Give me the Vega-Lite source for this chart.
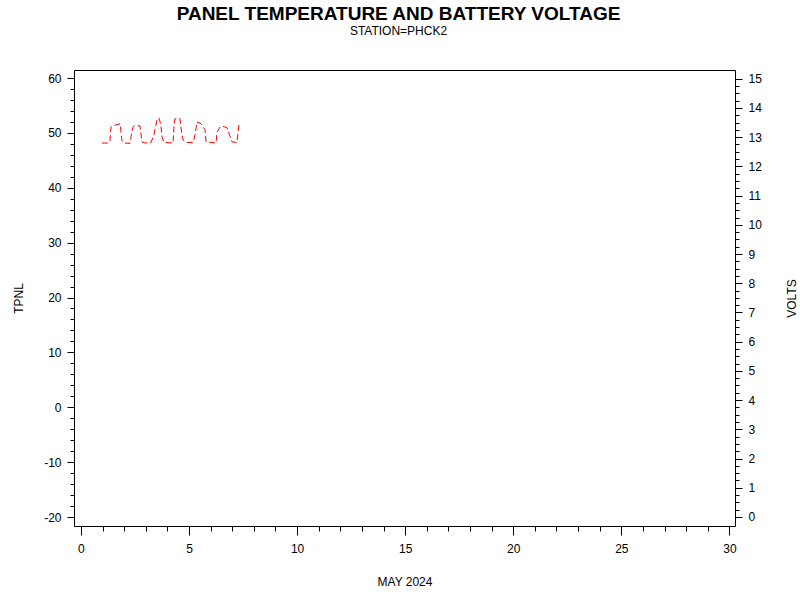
{
  "$schema": "https://vega.github.io/schema/vega-lite/v6.json",
  "autosize": "none",
  "padding": {"left": 74, "top": 70, "right": 65, "bottom": 74},
  "width": 661,
  "height": 456,
  "background": "white",
  "title": {
    "text": "PANEL TEMPERATURE AND BATTERY VOLTAGE",
    "subtitle": "STATION=PHCK2",
    "anchor": "middle",
    "dx": -6,
    "offset": 33,
    "font": "Liberation Sans",
    "fontSize": 19,
    "fontWeight": "bold",
    "color": "black",
    "subtitleFont": "Liberation Sans",
    "subtitleFontSize": 12,
    "subtitleColor": "black",
    "subtitlePadding": 2
  },
  "config": {
    "view": {"stroke": "black", "strokeWidth": 1},
    "axis": {
      "domain": false,
      "grid": false,
      "labelFont": "Liberation Sans",
      "labelFontSize": 12,
      "labelColor": "black",
      "labelOverlap": false,
      "tickColor": "black",
      "titleFont": "Liberation Sans",
      "titleFontSize": 12,
      "titleFontWeight": "normal",
      "titleColor": "black"
    }
  },
  "data": {
    "values": [
      {"day": 0.97, "volts": 12.80},
      {"day": 1.25, "volts": 12.80},
      {"day": 1.34, "volts": 12.84},
      {"day": 1.39, "volts": 13.35},
      {"day": 1.48, "volts": 13.39},
      {"day": 1.81, "volts": 13.46},
      {"day": 1.85, "volts": 13.22},
      {"day": 1.90, "volts": 12.87},
      {"day": 1.99, "volts": 12.80},
      {"day": 2.27, "volts": 12.79},
      {"day": 2.31, "volts": 12.98},
      {"day": 2.41, "volts": 13.35},
      {"day": 2.45, "volts": 13.39},
      {"day": 2.73, "volts": 13.39},
      {"day": 2.78, "volts": 13.11},
      {"day": 2.82, "volts": 12.84},
      {"day": 2.96, "volts": 12.80},
      {"day": 3.24, "volts": 12.82},
      {"day": 3.38, "volts": 13.08},
      {"day": 3.52, "volts": 13.59},
      {"day": 3.61, "volts": 13.66},
      {"day": 3.70, "volts": 13.42},
      {"day": 3.75, "volts": 13.01},
      {"day": 3.84, "volts": 12.82},
      {"day": 4.26, "volts": 12.80},
      {"day": 4.31, "volts": 13.42},
      {"day": 4.35, "volts": 13.63},
      {"day": 4.58, "volts": 13.64},
      {"day": 4.63, "volts": 13.32},
      {"day": 4.72, "volts": 12.91},
      {"day": 4.86, "volts": 12.82},
      {"day": 5.19, "volts": 12.82},
      {"day": 5.28, "volts": 13.08},
      {"day": 5.37, "volts": 13.52},
      {"day": 5.56, "volts": 13.46},
      {"day": 5.74, "volts": 13.25},
      {"day": 5.79, "volts": 12.84},
      {"day": 6.25, "volts": 12.80},
      {"day": 6.30, "volts": 13.18},
      {"day": 6.44, "volts": 13.35},
      {"day": 6.53, "volts": 13.39},
      {"day": 6.76, "volts": 13.32},
      {"day": 6.94, "volts": 12.94},
      {"day": 6.99, "volts": 12.84},
      {"day": 7.22, "volts": 12.82},
      {"day": 7.27, "volts": 13.18},
      {"day": 7.31, "volts": 13.42},
      {"day": 7.36, "volts": 13.46}
    ]
  },
  "encoding": {
    "x": {
      "field": "day",
      "type": "quantitative",
      "scale": {"domain": [-0.32, 30.26], "nice": false, "zero": false},
      "axis": {
        "title": "MAY 2024",
        "values": [0,1,2,3,4,5,6,7,8,9,10,11,12,13,14,15,16,17,18,19,20,21,22,23,24,25,26,27,28,29,30],
        "tickSize": {"condition": {"test": "datum.value % 5 === 0", "value": 9}, "value": 5},
        "labelExpr": "datum.value % 5 === 0 ? '' + datum.value : ''",
        "labelPadding": 8,
        "titlePadding": 22
      }
    }
  },
  "layer": [
    {
      "mark": {"type": "line", "color": "black", "strokeWidth": 1, "strokeDash": [6, 3]},
      "encoding": {
        "y": {
          "field": "tpnl",
          "type": "quantitative",
          "scale": {"domain": [-21.64, 61.46], "nice": false, "zero": false},
          "axis": {
            "orient": "left",
            "title": "TPNL",
            "values": [-20,-18,-16,-14,-12,-10,-8,-6,-4,-2,0,2,4,6,8,10,12,14,16,18,20,22,24,26,28,30,32,34,36,38,40,42,44,46,48,50,52,54,56,58,60],
            "tickSize": {"condition": {"test": "datum.value % 10 === 0", "value": 7}, "value": 4},
            "labelExpr": "datum.value % 10 === 0 ? '' + datum.value : ''",
            "labelPadding": 6,
            "titlePadding": 18
          }
        }
      }
    },
    {
      "mark": {"type": "line", "color": "#ff0000", "strokeWidth": 1, "strokeDash": [6, 3]},
      "encoding": {
        "y": {
          "field": "volts",
          "type": "quantitative",
          "scale": {"domain": [-0.31, 15.30], "nice": false, "zero": false},
          "axis": {
            "orient": "right",
            "title": "VOLTS",
            "titleAngle": -90,
            "values": [0,0.25,0.5,0.75,1,1.25,1.5,1.75,2,2.25,2.5,2.75,3,3.25,3.5,3.75,4,4.25,4.5,4.75,5,5.25,5.5,5.75,6,6.25,6.5,6.75,7,7.25,7.5,7.75,8,8.25,8.5,8.75,9,9.25,9.5,9.75,10,10.25,10.5,10.75,11,11.25,11.5,11.75,12,12.25,12.5,12.75,13,13.25,13.5,13.75,14,14.25,14.5,14.75,15],
            "tickSize": {"condition": {"test": "datum.value % 1 === 0", "value": 7}, "value": 4},
            "labelExpr": "datum.value % 1 === 0 ? '' + datum.value : ''",
            "labelPadding": 6,
            "titlePadding": 37
          }
        }
      }
    }
  ],
  "resolve": {"scale": {"y": "independent"}}
}
